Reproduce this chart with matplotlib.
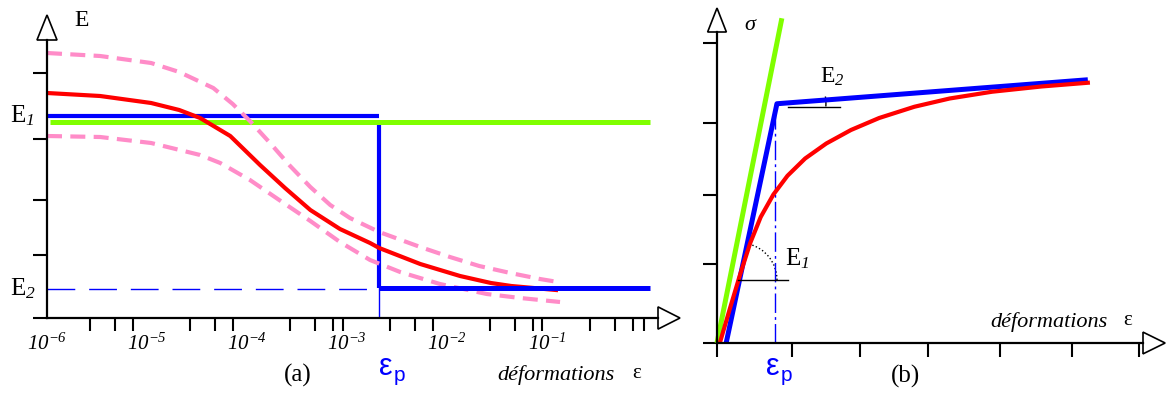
import numpy as np
import matplotlib.pyplot as plt
from matplotlib.patches import Polygon, Arc
from matplotlib.ticker import NullFormatter

plt.rcParams['font.family'] = 'Liberation Serif'
plt.rcParams['mathtext.fontset'] = 'custom'
plt.rcParams['mathtext.rm'] = 'Liberation Serif:italic'
plt.rcParams['mathtext.it'] = 'Liberation Serif:italic'

# ---- (a) module E vs deformation (log scale) ----
eps_mean = [1.0e-6, 3.4e-6, 1.1e-5, 2.1e-5, 3.4e-5, 6.8e-5, 1.35e-4, 2.4e-4, 4.3e-4,
            8.5e-4, 1.7e-3, 2.1e-3, 5.4e-3, 1.35e-2, 2.75e-2, 4.4e-2, 0.123]
E_mean = [225, 222, 215, 208, 200, 182, 153, 130, 108, 89, 75, 70, 54, 42, 35, 32, 28]

eps_up = [1.0e-6, 3.4e-6, 1.1e-5, 2.1e-5, 4.6e-5, 7.2e-5, 1.07e-4, 1.7e-4, 2.7e-4, 4.3e-4,
          6.8e-4, 1.07e-3, 2.1e-3, 5.4e-3, 1.07e-2, 2.1e-2, 4.3e-2, 8.5e-2, 0.129]
E_up = [265, 262, 255, 246, 230, 214, 197, 175, 152, 131, 113, 100, 86, 71, 61, 52, 45, 39, 36]

eps_low = [1.0e-6, 3.4e-6, 1.1e-5, 3.4e-5, 5.4e-5, 1.07e-4, 2.1e-4, 4.3e-4, 8.5e-4,
           1.7e-3, 3.4e-3, 8.5e-3, 2.5e-2, 5.4e-2, 0.135]
E_low = [182, 181, 175, 163, 155, 138, 118, 97, 76, 58, 46, 34, 24, 20, 16]

E1 = 202
E2 = 30
E_green = 196
eps_p_a = 2.1e-3
eps_start = 1.0e-6
eps_end = 1.07

decades = [1e-6, 1e-5, 1e-4, 1e-3, 1e-2, 1e-1]
decade_labels = [r'$10^{-6}$', r'$10^{-5}$', r'$10^{-4}$',
                 r'$10^{-3}$', r'$10^{-2}$', r'$10^{-1}$']
E_ticks = [0, 63, 118, 179, 245]

# ---- (b) stress vs strain ----
green_x = [0.0, 0.92]
green_y = [0.0, 4.33]
blue_x = [0.13, 0.85, 5.26]
blue_y = [0.0, 3.19, 3.51]
red_x = [0.04, 0.18, 0.33, 0.47, 0.62, 0.80, 1.00, 1.25, 1.55, 1.90, 2.30, 2.80,
         3.30, 3.90, 4.60, 5.26]
red_y = [0.0, 0.45, 0.92, 1.33, 1.68, 1.98, 2.23, 2.46, 2.66, 2.84, 3.00, 3.15,
         3.26, 3.35, 3.42, 3.47]
eps_p_b = 0.82
b_xticks = [0, 1.06, 2.03, 2.99, 4.01, 5.03, 5.99]
b_yticks = [0, 1.05, 1.97, 2.93, 4.0]

pink = '#ff8cc8'
lime = '#80ff00'
blue = '#0000ff'
red = '#ff0000'

W, H = 1167, 394
fig = plt.figure(figsize=(W / 100, H / 100), dpi=100)
ax1 = fig.add_axes([47 / W, 1 - 318 / H, 611 / W, 278 / H])
ax2 = fig.add_axes([717 / W, 1 - 343 / H, 426 / W, 311 / H])


def arrow_axes(ax, tip_up, half_w, tip_right, half_h):
    up = Polygon([(-half_w, 1.0), (half_w, 1.0), (0, tip_up)], closed=True,
                 transform=ax.transAxes, clip_on=False, fc='white', ec='black', lw=1.2)
    rt = Polygon([(1.0, -half_h), (1.0, half_h), (tip_right, 0)], closed=True,
                 transform=ax.transAxes, clip_on=False, fc='white', ec='black', lw=1.2)
    ax.add_patch(up)
    ax.add_patch(rt)


for ax in (ax1, ax2):
    for s in ('top', 'right'):
        ax.spines[s].set_visible(False)
    for s in ('left', 'bottom'):
        ax.spines[s].set_linewidth(1.6)
    ax.patch.set_alpha(0)

# ---------- panel (a) ----------
ax1.set_xscale('log')
ax1.set_xlim(1e-6, 10 ** 0.11)
ax1.set_ylim(0, 278)

ax1.plot([eps_start, eps_p_a], [E2 - 1, E2 - 1], color=blue, lw=1, ls=(0, (20, 10)))
ax1.plot([eps_start, eps_p_a], [E1, E1], color=blue, lw=3, solid_capstyle='butt')
ax1.plot([eps_p_a, eps_p_a], [E2, E_green], color=blue, lw=3, solid_capstyle='butt')
ax1.plot([eps_p_a, eps_p_a], [0, E2], color=blue, lw=1)
ax1.plot([1.07e-6, eps_end], [E_green, E_green], color=lime, lw=3.6, solid_capstyle='butt')
ax1.plot(eps_up, E_up, color=pink, lw=3, ls=(0, (3.6, 2)))
ax1.plot(eps_low, E_low, color=pink, lw=3, ls=(0, (3.6, 2)))
ax1.plot(eps_mean, E_mean, color=red, lw=3)
ax1.plot([eps_p_a, eps_end], [E2, E2], color=blue, lw=3.6, solid_capstyle='butt')

minor = [d * f for d in decades for f in (2.7, 4.8, 7.3)]
minor += [1e-5, 1e-4, 1e-3, 1e-1, 9.2e-4, 8.9e-2, 9.3e-1]
ax1.set_xticks(decades, decade_labels)
ax1.set_xticks(minor, minor=True)
ax1.xaxis.set_minor_formatter(NullFormatter())
ax1.tick_params(axis='x', which='major', length=0, pad=11, labelsize=15)
ax1.tick_params(axis='x', which='minor', length=9, width=1.5, direction='out')
ax1.set_yticks(E_ticks, [])
ax1.tick_params(axis='y', length=10, width=1.5, direction='out')
arrow_axes(ax1, 1.09, 0.0164, 1.036, 0.04)

ax1.text(2.2e-6, 298, 'E', fontsize=17, ha='center', va='center')
ax1.text(4.3e-7, 196, 'E$_1$', fontsize=18, ha='left', va='baseline')
ax1.text(4.3e-7, 23, 'E$_2$', fontsize=18, ha='left', va='baseline')
ax1.text(3.2e-4, -57, '(a)', fontsize=18, ha='center', va='center')
ax1.text(eps_p_a, -57, 'ε', fontsize=22, family='Liberation Sans', color=blue,
         ha='left', va='baseline')
ax1.text(2.9e-3, -63, 'p', fontsize=15, family='Liberation Sans', color=blue,
         ha='left', va='baseline')
ax1.text(3.2e-2, -62, 'déformations', fontsize=16, style='italic', ha='left', va='baseline')
ax1.text(0.71, -60, 'ε', fontsize=15, ha='left', va='baseline')

# ---------- panel (b) ----------
ax2.set_xlim(0, 426 / 70.5)
ax2.set_ylim(0, 311 / 75)

ax2.plot(green_x, green_y, color=lime, lw=3.6, clip_on=False, solid_capstyle='butt')
ax2.plot([eps_p_b, eps_p_b], [0, blue_y[1]], color=blue, lw=1, ls=(0, (14, 3, 2, 3)))
ax2.plot(blue_x, blue_y, color=blue, lw=3.6, solid_capstyle='butt')
ax2.plot(red_x, red_y, color=red, lw=3)

# slope markers
ax2.plot([0.30, 1.01], [0.84, 0.84], color='black', lw=1)
ax2.add_patch(Arc((0.326, 0.84), 1.05, 0.987, theta1=0, theta2=75, color='black',
                  lw=1, ls=':'))
ax2.plot([1.01, 1.745], [3.15, 3.15], color='black', lw=1)
ax2.add_patch(Arc((0.85, 3.19), 1.39, 1.307, theta1=-3, theta2=8, color='black', lw=1))

ax2.set_xticks(b_xticks, [])
ax2.set_yticks(b_yticks, [])
ax2.tick_params(axis='x', length=10, width=1.5, direction='out')
ax2.tick_params(axis='y', length=10, width=1.5, direction='out')
arrow_axes(ax2, 1.077, 0.022, 1.052, 0.035)

ax2.text(0.47, 4.23, 'σ', fontsize=16, style='italic', ha='center', va='center')
ax2.text(1.46, 3.47, 'E$_2$', fontsize=17, ha='left', va='baseline')
ax2.text(0.96, 1.04, 'E$_1$', fontsize=18, ha='left', va='baseline')
ax2.text(3.87, 0.21, 'déformations', fontsize=16, style='italic', ha='left', va='baseline')
ax2.text(5.76, 0.24, 'ε', fontsize=15, ha='left', va='baseline')
ax2.text(2.68, -0.45, '(b)', fontsize=18, ha='center', va='center')
ax2.text(0.70, -0.43, 'ε', fontsize=22, family='Liberation Sans', color=blue,
         ha='left', va='baseline')
ax2.text(0.91, -0.51, 'p', fontsize=15, family='Liberation Sans', color=blue,
         ha='left', va='baseline')

fig.savefig('out.png', dpi=100)
